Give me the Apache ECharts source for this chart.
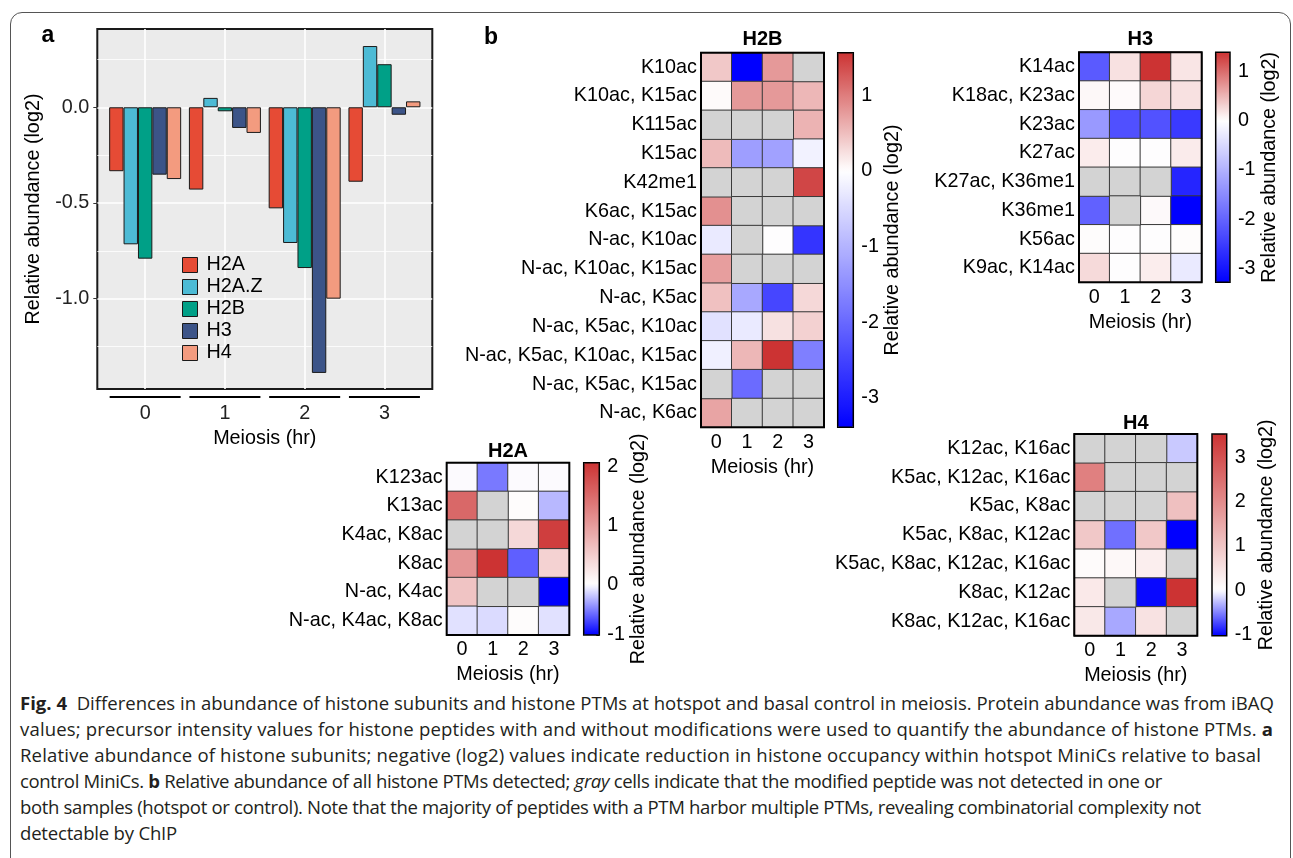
<!DOCTYPE html>
<html>
<head>
<meta charset="utf-8">
<script src="https://cdn.jsdelivr.net/npm/echarts@6/dist/echarts.min.js"></script>
<style>
html, body { margin: 0; padding: 0; background: #fff; }
#wrap { position: relative; width: 1293px; height: 858px; overflow: hidden; }
#frame { position: absolute; left: 10px; top: 12px; width: 1281px; height: 880px; border: 1px solid #555; border-radius: 12px; box-sizing: border-box; }
#chart { position: absolute; left: 0; top: 0; width: 1293px; height: 690px; }
#caption { position: absolute; left: 20px; top: 690px; font-family: "Open Sans", "Noto Sans", sans-serif; font-size: 16px; line-height: 25.9px; color: #231f20; white-space: nowrap; }
#caption span { display: inline-block; }
</style>
</head>
<body>
<div id="wrap">
  <div id="frame"></div>
  <div id="chart"></div>
  <div id="caption">
    <div><span><b>Fig. 4</b>&nbsp; Differences in abundance of histone subunits and histone PTMs at hotspot and basal control in meiosis. Protein abundance was from iBAQ</span></div>
    <div><span>values; precursor intensity values for histone peptides with and without modifications were used to quantify the abundance of histone PTMs. <b>a</b></span></div>
    <div><span>Relative abundance of histone subunits; negative (log2) values indicate reduction in histone occupancy within hotspot MiniCs relative to basal</span></div>
    <div><span>control MiniCs. <b>b</b> Relative abundance of all histone PTMs detected; <i>gray</i> cells indicate that the modified peptide was not detected in one or</span></div>
    <div><span>both samples (hotspot or control). Note that the majority of peptides with a PTM harbor multiple PTMs, revealing combinatorial complexity not</span></div>
    <div><span>detectable by ChIP</span></div>
  </div>
</div>
<script>
// ---- panel a: histone subunits ----
var hours = [0, 1, 2, 3];
var histones = ['H2A', 'H2A.Z', 'H2B', 'H3', 'H4'];
var histoneColors = ['#E64B35', '#4DBBD5', '#00A087', '#3C5488', '#F39B7F'];
var h2aAbund = [-0.334, -0.430, -0.528, -0.389];
var h2azAbund = [-0.716, 0.049, -0.709, 0.320];
var h2bAbund = [-0.791, -0.021, -0.840, 0.225];
var h3Abund = [-0.352, -0.108, -1.388, -0.039];
var h4Abund = [-0.375, -0.134, -1.000, 0.031];
var barYRange = [-1.472, 0.409];
var barYTicks = [-1.0, -0.5, 0.0];
var barYMinor = [-1.25, -0.75, -0.25, 0.25];

// ---- panel b: PTM heatmaps (null = not detected) ----
var h2bRows = ['K10ac', 'K10ac, K15ac', 'K115ac', 'K15ac', 'K42me1', 'K6ac, K15ac', 'N-ac, K10ac',
  'N-ac, K10ac, K15ac', 'N-ac, K5ac', 'N-ac, K5ac, K10ac', 'N-ac, K5ac, K10ac, K15ac', 'N-ac, K5ac, K15ac', 'N-ac, K6ac'];
var h2bVals = [
  [0.42, -3.39, 0.78, null],
  [0.03, 0.78, 0.78, 0.55],
  [null, null, null, 0.58],
  [0.52, -1.29, -1.25, -0.17],
  [null, null, null, 1.42],
  [0.85, null, null, null],
  [-0.28, null, 0.0, -2.70],
  [0.74, null, null, null],
  [0.47, -1.16, -2.45, 0.30],
  [-0.40, -0.28, 0.23, 0.35],
  [-0.20, 0.55, 1.56, -1.70],
  [null, -1.96, null, null],
  [0.70, null, null, null]
];
var h2bRange = [-3.39, 1.56];
var h2bTicks = [-3, -2, -1, 0, 1];

var h3Rows = ['K14ac', 'K18ac, K23ac', 'K23ac', 'K27ac', 'K27ac, K36me1', 'K36me1', 'K56ac', 'K9ac, K14ac'];
var h3Vals = [
  [-2.13, 0.20, 1.39, 0.18],
  [0.04, 0.02, 0.28, 0.20],
  [-1.31, -2.26, -2.23, -2.53],
  [0.13, 0.0, 0.0, 0.14],
  [null, null, null, -2.80],
  [-2.04, null, 0.03, -3.28],
  [0.01, 0.0, 0.0, 0.01],
  [0.25, 0.0, 0.12, -0.27]
];
var h3Range = [-3.28, 1.39];
var h3Ticks = [-3, -2, -1, 0, 1];

var h2aRows = ['K123ac', 'K13ac', 'K4ac, K8ac', 'K8ac', 'N-ac, K4ac', 'N-ac, K4ac, K8ac'];
var h2aVals = [
  [0.0, -0.45, 0.0, 0.0],
  [1.52, null, 0.03, -0.24],
  [null, null, 0.40, 1.95],
  [1.07, 2.06, -0.54, 0.45],
  [0.60, null, null, -0.86],
  [-0.10, -0.12, 0.03, -0.10]
];
var h2aRange = [-0.86, 2.06];
var h2aTicks = [-0.86, 0, 1, 2];

var h4Rows = ['K12ac, K16ac', 'K5ac, K12ac, K16ac', 'K5ac, K8ac', 'K5ac, K8ac, K12ac',
  'K5ac, K8ac, K12ac, K16ac', 'K8ac, K12ac', 'K8ac, K12ac, K16ac'];
var h4Vals = [
  [null, null, null, -0.22],
  [2.20, null, null, null],
  [null, null, null, 1.10],
  [0.95, -0.58, 0.95, -1.03],
  [0.07, 0.13, 0.30, null],
  [0.37, null, -1.00, 3.53],
  [0.40, -0.35, 0.50, null]
];
var h4Range = [-1.03, 3.53];
var h4Ticks = [-1, 0, 1, 2, 3];

var FONT = '"Liberation Sans", Arial, sans-serif';
var LBL = 19.8;

// layout of each heatmap panel
var panels = [
  { title: 'H2B', rows: h2bRows, vals: h2bVals, range: h2bRange, ticks: h2bTicks,
    grid: { left: 701, top: 52.7, width: 123, height: 374.6 }, barLeft: 837.7, barWidth: 15.6, titleY: 39 },
  { title: 'H3', rows: h3Rows, vals: h3Vals, range: h3Range, ticks: h3Ticks,
    grid: { left: 1079, top: 52.3, width: 122.7, height: 230 }, barLeft: 1215.7, barWidth: 14.3, titleY: 39 },
  { title: 'H2A', rows: h2aRows, vals: h2aVals, range: h2aRange, ticks: h2aTicks,
    grid: { left: 446.7, top: 462.7, width: 122.6, height: 172.3 }, barLeft: 583.7, barWidth: 15.6, titleY: 451 },
  { title: 'H4', rows: h4Rows, vals: h4Vals, range: h4Range, ticks: h4Ticks,
    grid: { left: 1074.3, top: 434, width: 123, height: 201.7 }, barLeft: 1212, barWidth: 14.7, titleY: 423 }
];

// blue - white - red, white pinned at 0
function rampColor(v, lo, hi) {
  var r, g, b;
  if (v < 0) {
    var t = v / lo;
    r = g = 255 * (1 - t); b = 255;
  } else {
    var s = v / hi;
    r = 255 - 51 * s; g = b = 255 - 204 * s;
  }
  return 'rgb(' + Math.round(r) + ',' + Math.round(g) + ',' + Math.round(b) + ')';
}
function rampStops(lo, hi) {
  var out = [];
  for (var i = 0; i <= 60; i++) out.push(rampColor(lo + (hi - lo) * i / 60, lo, hi));
  return out;
}

var myChart = echarts.init(document.getElementById('chart'));

var abundSeries = [h2aAbund, h2azAbund, h2bAbund, h3Abund, h4Abund];

var grids = [{
  left: 97.3, top: 29, width: 335, height: 360, show: true,
  backgroundColor: '#EBEBEB', borderColor: '#1a1a1a', borderWidth: 2
}];
var xAxes = [{
  type: 'value', gridIndex: 0, min: -0.6, max: 3.6,
  axisLine: { show: false, onZero: false },
  axisTick: { show: false, customValues: hours },
  axisLabel: { customValues: hours, fontSize: LBL, color: '#222', margin: 15 },
  splitLine: { show: true, lineStyle: { color: '#fff', width: 1.6 } },
  name: 'Meiosis (hr)', nameLocation: 'middle', nameGap: 38,
  nameTextStyle: { fontSize: LBL, color: '#000' }
}];
var yAxes = [{
  type: 'value', gridIndex: 0, min: barYRange[0], max: barYRange[1],
  axisLine: { show: false, onZero: false },
  axisTick: { show: true, customValues: barYTicks, length: 4, lineStyle: { color: '#333' } },
  axisLabel: { customValues: barYTicks, fontSize: LBL, color: '#222', margin: 8,
    formatter: function (v) { return v.toFixed(1); } },
  splitLine: { show: true, lineStyle: { color: '#fff', width: 1.6 } },
  name: 'Relative abundance (log2)', nameLocation: 'middle', nameGap: 54,
  nameTextStyle: { fontSize: LBL, color: '#000' }
}, {
  type: 'value', gridIndex: 0, min: barYRange[0], max: barYRange[1], position: 'left',
  axisLine: { show: false, onZero: false },
  axisTick: { show: false, customValues: barYMinor },
  axisLabel: { show: false },
  splitLine: { show: true, lineStyle: { color: '#fff', width: 0.8 } }
}];

var series = [];
histones.forEach(function (name, k) {
  series.push({
    name: name, type: 'bar', xAxisIndex: 0, yAxisIndex: 0,
    barWidth: 14.4, barGap: '0%',
    data: hours.map(function (h, i) { return [h, abundSeries[k][i]]; }),
    itemStyle: { color: histoneColors[k], borderColor: '#1a1a1a', borderWidth: 1 }
  });
});
// group underline segments below panel a
series.push({
  type: 'custom', xAxisIndex: 0, yAxisIndex: 0, clip: false, silent: true,
  data: hours.map(function (h) { return [h, barYRange[0]]; }),
  renderItem: function (params, api) {
    var p = api.coord([api.value(0), api.value(1)]);
    var half = api.size([0.89, 0])[0] / 2;
    return {
      type: 'line',
      shape: { x1: p[0] - half, y1: p[1] + 8, x2: p[0] + half, y2: p[1] + 8 },
      style: { stroke: '#000', lineWidth: 2 }
    };
  }
});

var visualMaps = [];
var graphics = [
  { type: 'text', x: 48, y: 36, style: { text: 'a', fontSize: 23, fontWeight: 'bold', fontFamily: FONT, fill: '#000', textAlign: 'center', textVerticalAlign: 'middle' } },
  { type: 'text', x: 491, y: 38, style: { text: 'b', fontSize: 23, fontWeight: 'bold', fontFamily: FONT, fill: '#000', textAlign: 'center', textVerticalAlign: 'middle' } }
];

panels.forEach(function (p, n) {
  var g = p.grid;
  grids.push({ left: g.left, top: g.top, width: g.width, height: g.height, show: true,
    backgroundColor: 'rgba(0,0,0,0)', borderColor: '#000', borderWidth: 2, z: 10 });
  grids.push({ left: p.barLeft, top: g.top, width: p.barWidth, height: g.height, show: true,
    backgroundColor: 'rgba(0,0,0,0)', borderColor: '#000', borderWidth: 1.5, z: 10 });
  var hg = 1 + 2 * n, cg = 2 + 2 * n;
  xAxes.push({
    type: 'category', gridIndex: hg, data: hours.map(String),
    axisLine: { show: false }, axisTick: { show: false },
    axisLabel: { fontSize: LBL, color: '#000', margin: 5 },
    name: 'Meiosis (hr)', nameLocation: 'middle', nameGap: 30,
    nameTextStyle: { fontSize: LBL, color: '#000' }
  });
  xAxes.push({ type: 'value', gridIndex: cg, show: false, min: 0, max: 1, axisLine: { onZero: false } });
  yAxes.push({
    type: 'category', gridIndex: hg, data: p.rows, inverse: true,
    axisLine: { show: false }, axisTick: { show: false },
    axisLabel: { fontSize: LBL, color: '#000', margin: 4 }
  });
  yAxes.push({
    type: 'value', gridIndex: cg, position: 'right', min: p.range[0], max: p.range[1],
    axisLine: { show: false, onZero: false },
    axisTick: { show: true, inside: true, length: 3, customValues: p.ticks, lineStyle: { color: '#000' } },
    axisLabel: { customValues: p.ticks, fontSize: LBL, color: '#000', margin: 8,
      formatter: function (v) { return String(Math.round(v)); } },
    splitLine: { show: false },
    name: 'Relative abundance (log2)', nameLocation: 'middle', nameRotate: 90, nameGap: 29,
    nameTextStyle: { fontSize: LBL, color: '#000' }
  });
  var xi = 1 + 2 * n, yi = 2 + 2 * n;
  var colored = [], gray = [];
  p.vals.forEach(function (row, r) {
    row.forEach(function (v, c) {
      if (v === null) gray.push([c, r, 0]);
      else colored.push([c, r, v]);
    });
  });
  var si = series.length;
  series.push({
    type: 'heatmap', xAxisIndex: xi, yAxisIndex: yi, data: colored,
    itemStyle: { borderColor: '#3a3a3a', borderWidth: 1 }, emphasis: { disabled: true }
  });
  series.push({
    type: 'heatmap', xAxisIndex: xi, yAxisIndex: yi, data: gray,
    itemStyle: { color: '#D3D3D3', borderColor: '#3a3a3a', borderWidth: 1 }, emphasis: { disabled: true }
  });
  visualMaps.push({
    type: 'continuous', seriesIndex: si, dimension: 2,
    min: p.range[0], max: p.range[1],
    left: p.barLeft, top: g.top, itemWidth: p.barWidth, itemHeight: g.height,
    calculable: false, hoverLink: false, padding: 0,
    inRange: { color: rampStops(p.range[0], p.range[1]) }
  });
  graphics.push({ type: 'text', x: g.left + g.width / 2, y: p.titleY,
    style: { text: p.title, fontSize: 20, fontWeight: 'bold', fontFamily: FONT, fill: '#000', textAlign: 'center', textVerticalAlign: 'middle' } });
});

var option = {
  animation: false,
  textStyle: { fontFamily: FONT },
  grid: grids,
  xAxis: xAxes,
  yAxis: yAxes,
  legend: {
    data: histones, orient: 'vertical', left: 182, top: 255, padding: 0,
    itemWidth: 15, itemHeight: 15, itemGap: 2, icon: 'rect',
    itemStyle: { borderColor: '#1a1a1a', borderWidth: 1 },
    textStyle: { fontSize: LBL, color: '#000', padding: [0, 0, 0, 4] },
    selectedMode: false
  },
  visualMap: visualMaps,
  graphic: graphics,
  series: series
};
myChart.setOption(option);

// caption: size the font so the first line spans the text block,
// then nudge the other lines a little towards their widths in the figure
var captionWidths = [1255, 1253, 1241, 1093, 1129, 157];
(function () {
  var cap = document.getElementById('caption');
  var spans = cap.querySelectorAll('span');
  var w0 = spans[0].getBoundingClientRect().width;
  cap.style.fontSize = (16 * captionWidths[0] / w0) + 'px';
  spans.forEach(function (s, i) {
    if (i === 0) return;
    var w = s.getBoundingClientRect().width;
    var ls = (captionWidths[i] - w) / s.textContent.length;
    ls = Math.max(-0.35, Math.min(0.35, ls));
    s.style.letterSpacing = ls + 'px';
  });
})();
</script>
</body>
</html>
